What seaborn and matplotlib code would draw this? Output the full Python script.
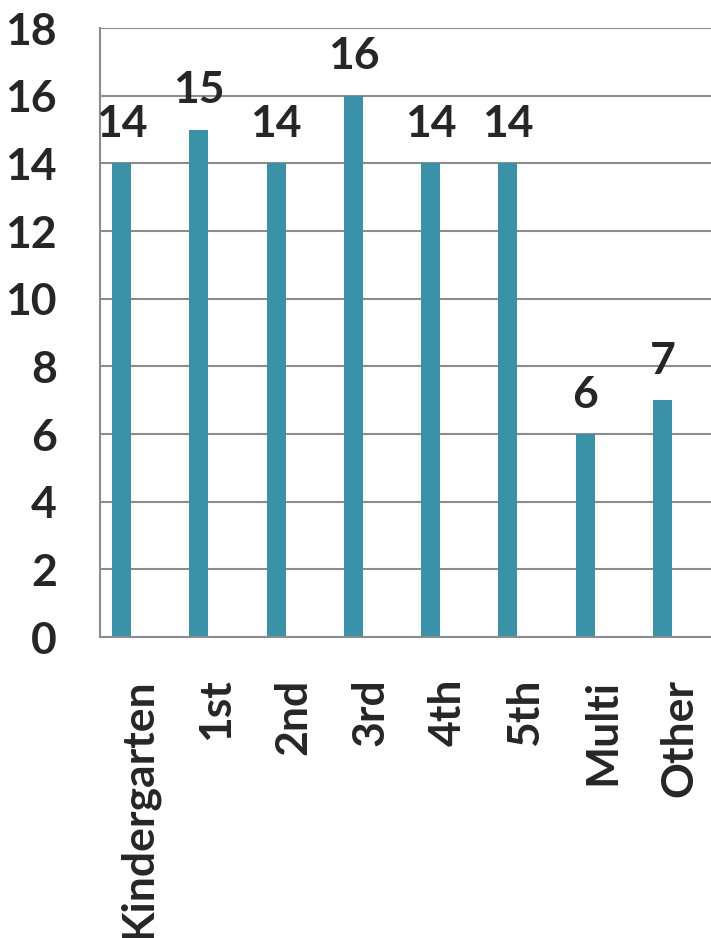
import matplotlib
matplotlib.use("Agg")
import matplotlib.pyplot as plt
import seaborn as sns
import pandas as pd
import numpy as np

# データ
grades = ["Kindergarten", "1st", "2nd", "3rd", "4th", "5th", "Multi", "Other"]
counts = [14, 15, 14, 16, 14, 14, 6, 7]
y_ticks = [0, 2, 4, 6, 8, 10, 12, 14, 16, 18]

bar_color = "#3A92A8"
grid_color = "#8C8C8C"

sns.set_style("white")
plt.rcParams["font.family"] = ["Lato", "DejaVu Sans"]
plt.rcParams["font.weight"] = "bold"

df = pd.DataFrame({"grade": grades, "count": counts})

fig = plt.figure(figsize=(7.11, 9.38), dpi=100)
# 右端は図の外まで伸びる（元画像と同じく切れている）
ax = fig.add_axes([100 / 711, 301 / 938, 618 / 711, 609 / 938])

sns.barplot(data=df, x="grade", y="count", color=bar_color, width=0.245,
            saturation=1, ax=ax, edgecolor="none")

# バーをカテゴリ中心から左へずらす
for p in ax.patches:
    p.set_x(p.get_x() - 0.22)

ax.bar_label(ax.containers[0], padding=14, fontsize=32, fontweight="bold")

ax.set_xlim(-0.5, len(grades) - 0.5)
ax.set_ylim(0, 18)
ax.set_yticks(y_ticks)
ax.set_xlabel("")
ax.set_ylabel("")

# 目盛り
ax.set_xticks(np.arange(len(grades)))
ax.set_xticklabels(grades, rotation=90, fontsize=32, fontweight="bold")
ax.set_xticks(np.arange(len(grades) + 1) - 0.5, minor=True)
ax.tick_params(axis="x", which="major", length=0, pad=30)
ax.tick_params(axis="x", which="minor", length=12, width=1.5,
               color=grid_color, direction="out")
ax.tick_params(axis="y", length=11, width=1.5, color=grid_color,
               direction="out", pad=20, labelsize=32)
for lab in ax.get_yticklabels():
    lab.set_fontweight("bold")

ax.yaxis.grid(True, color=grid_color, linewidth=1.5)
ax.set_axisbelow(True)
for side in ["top", "right"]:
    ax.spines[side].set_visible(False)
for side in ["left", "bottom"]:
    ax.spines[side].set_color(grid_color)
    ax.spines[side].set_linewidth(1.5)

plt.savefig("out.png", dpi=100)
